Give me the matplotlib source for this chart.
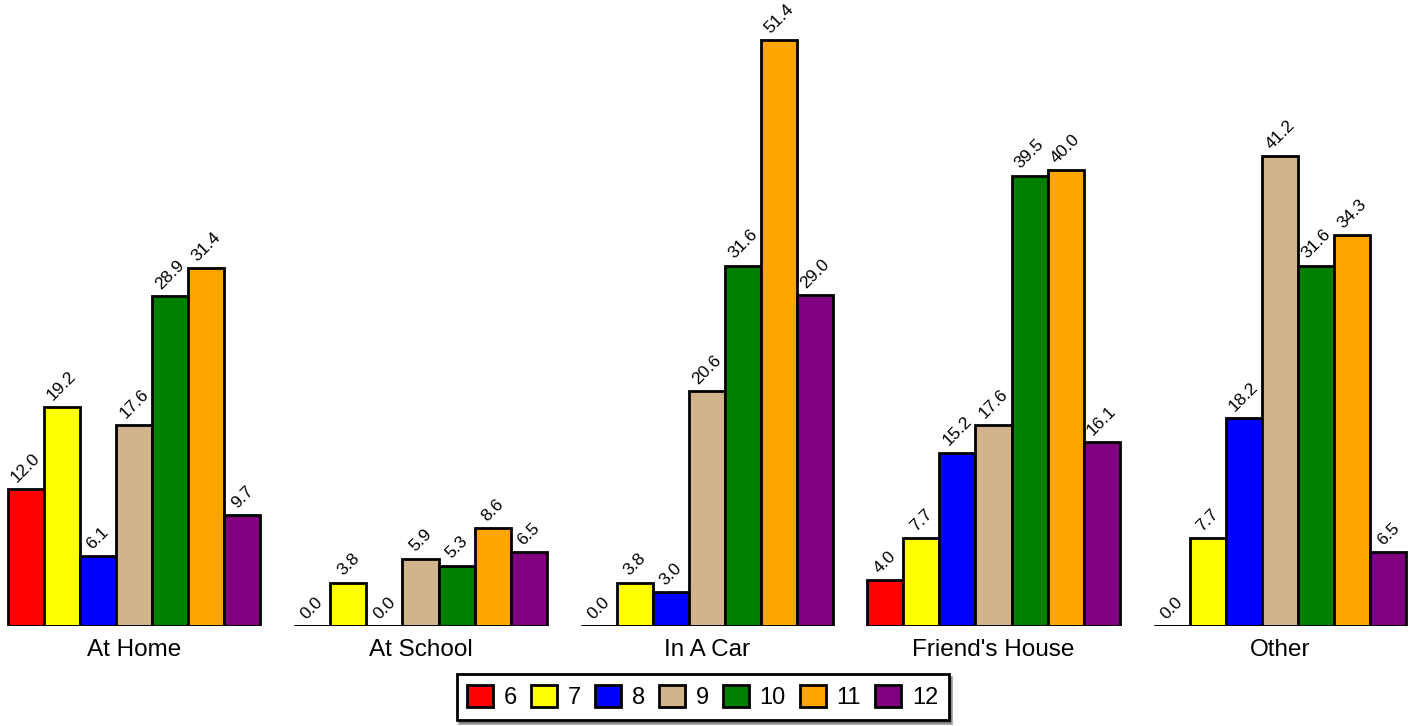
import matplotlib
matplotlib.use("Agg")
from matplotlib import pyplot as plt
import numpy as np
from typing import List

plt.rcParams['font.family'] = ['Liberation Sans', 'DejaVu Sans']

places: List[str] = ["At Home", "At School", "In A Car", "Friend's House", "Other"]
grades: List[str] = ["6", "7", "8", "9", "10", "11", "12"]
colors: List[str] = ["#ff0000", "#ffff00", "#0000ff", "#d2b48c", "#008000", "#ffa500", "#800080"]
values: List[List[float]] = [
    [12.0, 0.0, 0.0, 4.0, 0.0],     # 6
    [19.2, 3.8, 3.8, 7.7, 7.7],     # 7
    [6.1, 0.0, 3.0, 15.2, 18.2],    # 8
    [17.6, 5.9, 20.6, 17.6, 41.2],  # 9
    [28.9, 5.3, 31.6, 39.5, 31.6],  # 10
    [31.4, 8.6, 51.4, 40.0, 34.3],  # 11
    [9.7, 6.5, 29.0, 16.1, 6.5],    # 12
]


def grouped_bar_chart() -> None:
    """Percent of students by place and grade"""
    fig = plt.figure(figsize=(14.18, 7.26), dpi=100)
    ax = fig.add_axes([0, 100 / 726, 1, 626 / 726])

    x = np.arange(len(places))
    w = 0.126
    n = len(grades)
    for i, (grade, color) in enumerate(zip(grades, colors)):
        pos = x + (i - (n - 1) / 2) * w
        bars = ax.bar(pos, values[i], width=w, color=color, edgecolor='black',
                      linewidth=2, label=grade, zorder=2)
        for b, v in zip(bars, values[i]):
            ax.annotate(f"{v:.1f}", xy=(b.get_x() + b.get_width() / 2, v),
                        xytext=(0, 3), textcoords='offset points',
                        ha='center', va='bottom', rotation=45, fontsize=12.5)

    # baseline under each group
    ax.hlines(np.zeros(len(x)), x - n * w / 2, x + n * w / 2, color='black',
              linewidth=2, zorder=3)

    for xi, name in zip(x, places):
        ax.text(xi, -2.1, name, ha='center', va='center', fontsize=17.5)

    ax.set_xlim(-0.4677, 4.4817)
    ax.set_ylim(0, 54.9)
    ax.axis('off')

    fig.legend(loc='center', bbox_to_anchor=(0.4955, 1 - 697 / 726), ncol=7,
               fontsize=17, frameon=True, fancybox=False, shadow=True,
               edgecolor='black', framealpha=1, handlelength=1.1,
               handleheight=1.1, handletextpad=0.45, columnspacing=0.6,
               borderpad=0.45)
    fig.legends[0].get_frame().set_linewidth(2)

    fig.savefig("out.png", dpi=100)


if __name__ == '__main__':
    grouped_bar_chart()
